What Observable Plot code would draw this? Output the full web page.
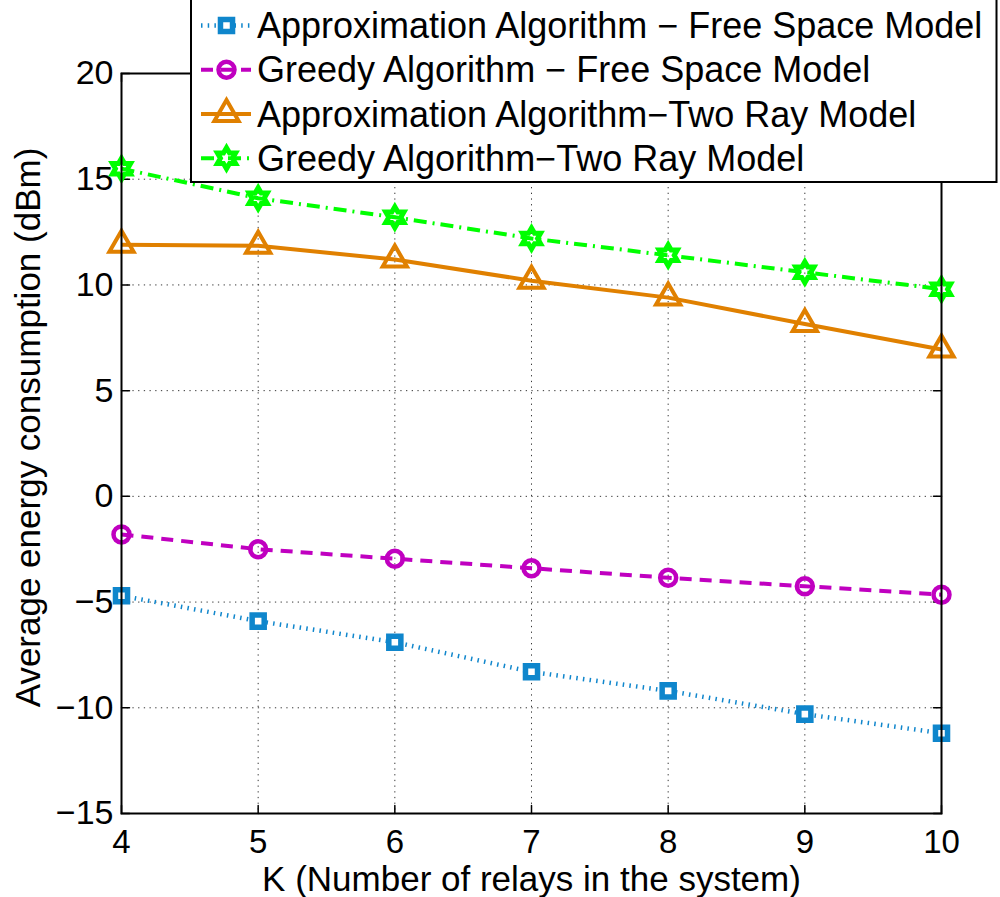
<!DOCTYPE html>
<html>
<head>
<meta charset="utf-8">
<script src="https://cdn.jsdelivr.net/npm/d3@7"></script>
<script src="https://cdn.jsdelivr.net/npm/@observablehq/plot@0.6"></script>
<style>
  html, body { margin: 0; padding: 0; background: #fff; }
  #chart { width: 1000px; height: 897px; }
</style>
</head>
<body>
<div id="chart"></div>
<script>
// Number of relays K
const K = [4, 5, 6, 7, 8, 9, 10];

// Average energy consumption (dBm) per algorithm / propagation model
const approxFreeSpace = [-4.7, -5.9, -6.9, -8.3, -9.2, -10.3, -11.2];
const greedyFreeSpace = [-1.8, -2.5, -2.95, -3.4, -3.85, -4.25, -4.65];
const approxTwoRay    = [11.9, 11.85, 11.2, 10.2, 9.4, 8.15, 6.95];
const greedyTwoRay    = [15.5, 14.1, 13.2, 12.2, 11.4, 10.6, 9.8];

const seriesNames = [
  "Approximation Algorithm \u2212 Free Space Model",
  "Greedy Algorithm \u2212 Free Space Model",
  "Approximation Algorithm\u2212Two Ray Model",
  "Greedy Algorithm\u2212Two Ray Model"
];
const seriesValues = [approxFreeSpace, greedyFreeSpace, approxTwoRay, greedyTwoRay];

// Axis ticks
const xTicks = [4, 5, 6, 7, 8, 9, 10];
const yTicks = [-15, -10, -5, 0, 5, 10, 15, 20];

// Six-pointed star symbol (point up)
const hexagram = {
  draw(context, size) {
    const R = Math.sqrt(size / Math.PI);
    const r = R / Math.sqrt(3);
    for (let i = 0; i < 12; i++) {
      const a = -Math.PI / 2 + i * Math.PI / 6;
      const rad = i % 2 === 0 ? R : r;
      const px = rad * Math.cos(a), py = rad * Math.sin(a);
      if (i === 0) context.moveTo(px, py); else context.lineTo(px, py);
    }
    context.closePath();
  }
};

const styles = [
  {color: "#0f86cc", dash: "1.5,5.2", width: 4.5, symbol: "square",   r: 6.8,  markerWidth: 5.5, fill: "white"},
  {color: "#c000c0", dash: "12,8",    width: 4,   symbol: "circle",   r: 8,    markerWidth: 4.5, fill: "none"},
  {color: "#e08000", dash: null,      width: 4,   symbol: "triangle", r: 9,    markerWidth: 4,   fill: "none"},
  {color: "#00ff00", dash: "13,6,2,6",width: 4,   symbol: hexagram,   r: 10.5, markerWidth: 5,   fill: "none"}
];

const rows = seriesValues.flatMap((vals, s) =>
  vals.map((v, i) => ({series: s, K: K[i], value: v}))
);

const FONT = "'Liberation Sans', Arial, Helvetica, sans-serif";
const fmt = d => (d < 0 ? "\u2212" + Math.abs(d) : String(d));
const tickLine = {shape: "arrow", r: 0, anchor: "start", length: 8, stroke: "black", strokeWidth: 1.5};

const marks = [
  Plot.gridX(xTicks.slice(1, -1), {stroke: "#222", strokeOpacity: 0.9, strokeWidth: 1, strokeDasharray: "1.3,4.4"}),
  Plot.gridY(yTicks.slice(1, -1), {stroke: "#222", strokeOpacity: 0.9, strokeWidth: 1, strokeDasharray: "1.3,4.4"}),
  // inward ticks on all four sides
  Plot.vector(xTicks, {x: d => d, frameAnchor: "bottom", rotate: 0, ...tickLine}),
  Plot.vector(xTicks, {x: d => d, frameAnchor: "top", rotate: 180, ...tickLine}),
  Plot.vector(yTicks, {y: d => d, frameAnchor: "left", rotate: 90, ...tickLine}),
  Plot.vector(yTicks, {y: d => d, frameAnchor: "right", rotate: -90, ...tickLine}),
  Plot.axisX({ticks: xTicks, tickSize: 0, tickPadding: 16, tickFormat: fmt, fontSize: 33, label: null}),
  Plot.axisY({ticks: yTicks, tickSize: 0, tickPadding: 8, tickFormat: fmt, fontSize: 34, label: null}),
  Plot.text(["K (Number of relays in the system)"], {
    frameAnchor: "bottom", dy: 66, textAnchor: "middle", lineAnchor: "middle", fontSize: 35, fill: "black"
  }),
  Plot.text(["Average energy consumption (dBm)"], {
    frameAnchor: "left", rotate: -90, dx: -93, dy: -16, textAnchor: "middle", lineAnchor: "middle", fontSize: 35, fill: "black"
  })
];

styles.forEach((st, s) => {
  const data = rows.filter(d => d.series === s);
  marks.push(Plot.line(data, {
    x: "K", y: "value", stroke: st.color, strokeWidth: st.width,
    strokeDasharray: st.dash || undefined, strokeLinecap: "butt", strokeLinejoin: "round"
  }));
});
styles.forEach((st, s) => {
  const data = rows.filter(d => d.series === s);
  marks.push(Plot.dot(data, {
    x: "K", y: "value", symbol: () => st.symbol, r: st.r,
    stroke: st.color, strokeWidth: st.markerWidth, fill: st.fill
  }));
});
marks.push(Plot.frame({stroke: "black", strokeWidth: 2}));

const chart = Plot.plot({
  width: 1000,
  height: 897,
  marginLeft: 121,
  marginRight: 59,
  marginTop: 73,
  marginBottom: 84,
  x: {domain: [4, 10]},
  y: {domain: [-15, 20]},
  symbol: {type: "identity"},
  style: {fontFamily: FONT, color: "black", background: "white", overflow: "visible"},
  marks
});
document.getElementById("chart").appendChild(chart);

// Legend box in the upper part of the figure
const svg = d3.select(chart);
const legend = svg.append("g")
  .attr("font-family", FONT).attr("font-size", 36).attr("text-anchor", "start");
const box = {x0: 191, x1: 996.5, y0: -2, y1: 182};
legend.append("rect")
  .attr("x", box.x0).attr("y", box.y0)
  .attr("width", box.x1 - box.x0).attr("height", box.y1 - box.y0)
  .attr("fill", "white").attr("stroke", "black").attr("stroke-width", 2);

const rowY = [25.5, 69.8, 114, 158.3];
styles.forEach((st, s) => {
  const g = legend.append("g").attr("transform", `translate(0,${rowY[s]})`);
  g.append("line")
    .attr("x1", 201).attr("x2", 251).attr("y1", 0).attr("y2", 0)
    .attr("stroke", st.color).attr("stroke-width", st.width)
    .attr("stroke-dasharray", st.dash);
  const sym = typeof st.symbol === "string"
    ? {square: d3.symbolSquare, circle: d3.symbolCircle, triangle: d3.symbolTriangle}[st.symbol]
    : st.symbol;
  g.append("path")
    .attr("transform", "translate(226.5,0)")
    .attr("d", d3.symbol(sym, Math.PI * st.r * st.r)())
    .attr("fill", st.fill).attr("stroke", st.color).attr("stroke-width", st.markerWidth);
  g.append("text")
    .attr("x", 257).attr("y", 0).attr("dy", "0.35em")
    .attr("text-anchor", "start")
    .attr("fill", "black")
    .text(seriesNames[s]);
});
</script>
</body>
</html>
